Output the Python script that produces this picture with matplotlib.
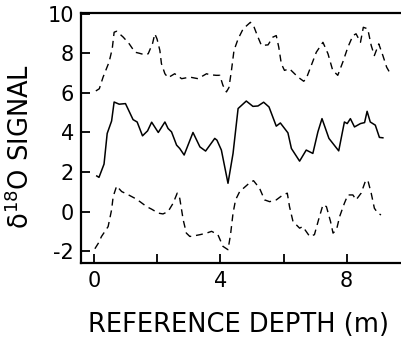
# Кривые сигнала d18O по опорной глубине: среднее и огибающие (пунктир)

import numpy as np
import matplotlib
matplotlib.use('Agg')
import matplotlib.pyplot as plt

plt.rcParams['font.family'] = ['DejaVu Sans']
plt.rcParams['mathtext.fontset'] = 'dejavusans'

# Средняя кривая (сплошная)
mid_x = [0.08, 0.15, 0.31, 0.41, 0.55, 0.63, 0.79, 0.99, 1.23, 1.36, 1.53, 1.69, 1.82,
         2.03, 2.24, 2.34, 2.45, 2.61, 2.71, 2.85, 3.13, 3.35, 3.53, 3.82, 3.89, 4.03,
         4.24, 4.40, 4.56, 4.82, 5.03, 5.19, 5.37, 5.54, 5.77, 5.90, 6.14, 6.25, 6.51,
         6.72, 6.93, 7.09, 7.22, 7.44, 7.75, 7.93, 8.02, 8.12, 8.25, 8.44, 8.57, 8.65,
         8.75, 8.91, 9.04, 9.15]
mid_y = [1.80, 1.73, 2.40, 3.95, 4.58, 5.54, 5.43, 5.46, 4.65, 4.53, 3.83, 4.08, 4.52,
         4.00, 4.53, 4.20, 4.03, 3.36, 3.19, 2.86, 4.00, 3.27, 3.06, 3.70, 3.61, 3.11,
         1.43, 2.94, 5.21, 5.59, 5.32, 5.34, 5.53, 5.29, 4.32, 4.48, 3.98, 3.19, 2.55,
         3.11, 2.94, 4.03, 4.70, 3.70, 3.07, 4.53, 4.45, 4.70, 4.28, 4.45, 4.50, 5.07,
         4.53, 4.37, 3.75, 3.73]

# Верхняя огибающая (пунктир)
up_x = [0.05, 0.16, 0.28, 0.47, 0.57, 0.63, 0.71, 0.92, 1.11, 1.29, 1.42, 1.60, 1.71,
        1.85, 1.92, 1.99, 2.08, 2.13, 2.24, 2.34, 2.55, 2.77, 3.03, 3.29, 3.56, 3.66,
        3.87, 3.98, 4.08, 4.19, 4.27, 4.35, 4.43, 4.56, 4.72, 4.95, 5.05, 5.17, 5.30,
        5.51, 5.66, 5.77, 5.85, 5.93, 6.03, 6.19, 6.46, 6.64, 6.72, 6.88, 7.04, 7.25,
        7.41, 7.56, 7.72, 7.88, 8.04, 8.20, 8.30, 8.44, 8.53, 8.67, 8.78, 8.88, 9.02,
        9.15, 9.27, 9.36]
up_y = [6.10, 6.21, 6.80, 7.56, 8.23, 9.07, 9.12, 8.82, 8.48, 8.06, 8.01, 7.93, 7.98,
        8.51, 8.99, 8.73, 8.15, 7.48, 6.97, 6.77, 6.97, 6.72, 6.80, 6.72, 6.97, 6.92,
        6.89, 6.89, 6.38, 6.05, 6.27, 7.14, 8.15, 8.73, 9.24, 9.57, 9.40, 8.90, 8.40,
        8.43, 8.82, 8.90, 8.31, 7.48, 7.14, 7.22, 6.80, 6.59, 6.72, 7.39, 8.06, 8.56,
        7.98, 7.14, 6.89, 7.56, 8.31, 8.90, 8.99, 8.56, 9.32, 9.24, 8.40, 7.89, 8.48,
        7.89, 7.30, 7.05]

# Нижняя огибающая (пунктир)
lo_x = [0.02, 0.13, 0.23, 0.44, 0.55, 0.60, 0.71, 0.87, 1.03, 1.29, 1.45, 1.66, 1.82,
        2.03, 2.18, 2.34, 2.50, 2.63, 2.71, 2.82, 2.92, 3.03, 3.19, 3.35, 3.56, 3.72,
        3.92, 4.08, 4.24, 4.32, 4.40, 4.48, 4.61, 4.93, 5.05, 5.24, 5.40, 5.56, 5.77,
        5.98, 6.12, 6.19, 6.30, 6.51, 6.61, 6.83, 6.98, 7.11, 7.25, 7.36, 7.49, 7.57,
        7.68, 7.78, 7.93, 8.04, 8.20, 8.30, 8.46, 8.59, 8.67, 8.78, 8.88, 8.99, 9.09]
lo_y = [-1.88, -1.60, -1.26, -0.76, 0.09, 0.76, 1.29, 1.01, 0.89, 0.67, 0.50, 0.25, 0.12,
        -0.08, -0.12, 0.00, 0.42, 0.93, 0.67, -0.42, -1.09, -1.26, -1.22, -1.17, -1.09, -1.00,
        -1.17, -1.76, -1.93, -1.17, -0.08, 0.59, 1.01, 1.46, 1.56, 1.18, 0.59, 0.50, 0.59,
        0.84, 0.93, 0.25, -0.50, -0.84, -0.76, -1.26, -1.17, -0.42, 0.34, 0.25, -0.50, -1.09,
        -0.92, -0.25, 0.42, 0.84, 0.84, 0.59, 0.93, 1.51, 1.60, 0.93, 0.17, -0.08, -0.17]

fig = plt.figure(figsize=(4.01, 3.38), dpi=100)
ax = fig.add_axes([0.202, 0.222, 0.80, 0.740])

ax.plot(mid_x, mid_y, color='black', linewidth=1.1)
ax.plot(up_x, up_y, color='black', linewidth=1.0, dashes=(5, 3.5))
ax.plot(lo_x, lo_y, color='black', linewidth=1.0, dashes=(5, 3.5))

ax.set_xlim(-0.42, 9.75)
ax.set_ylim(-2.6, 10.05)

ax.set_xticks([0, 2, 4, 6, 8])
ax.set_xticklabels(['0', '', '4', '', '8'])
ax.set_yticks([-2, 0, 2, 4, 6, 8, 10])
ax.set_yticklabels(['-2', '0', '2', '4', '6', '8', '10'])

ax.tick_params(direction='in', length=6.5, width=1.3, labelsize=15, pad=6)
ax.tick_params(axis='y', pad=5)

for side in ['left', 'top', 'bottom']:
    ax.spines[side].set_linewidth(1.6)
ax.spines['right'].set_visible(False)

ax.set_xlabel('REFERENCE DEPTH (m)', fontsize=18.5)
ax.xaxis.set_label_coords(0.49, -0.196)
ax.set_ylabel('δ$^{18}$O SIGNAL', fontsize=18.5)
ax.yaxis.set_label_coords(-0.143, 0.465)

fig.savefig('out.png', dpi=100)
